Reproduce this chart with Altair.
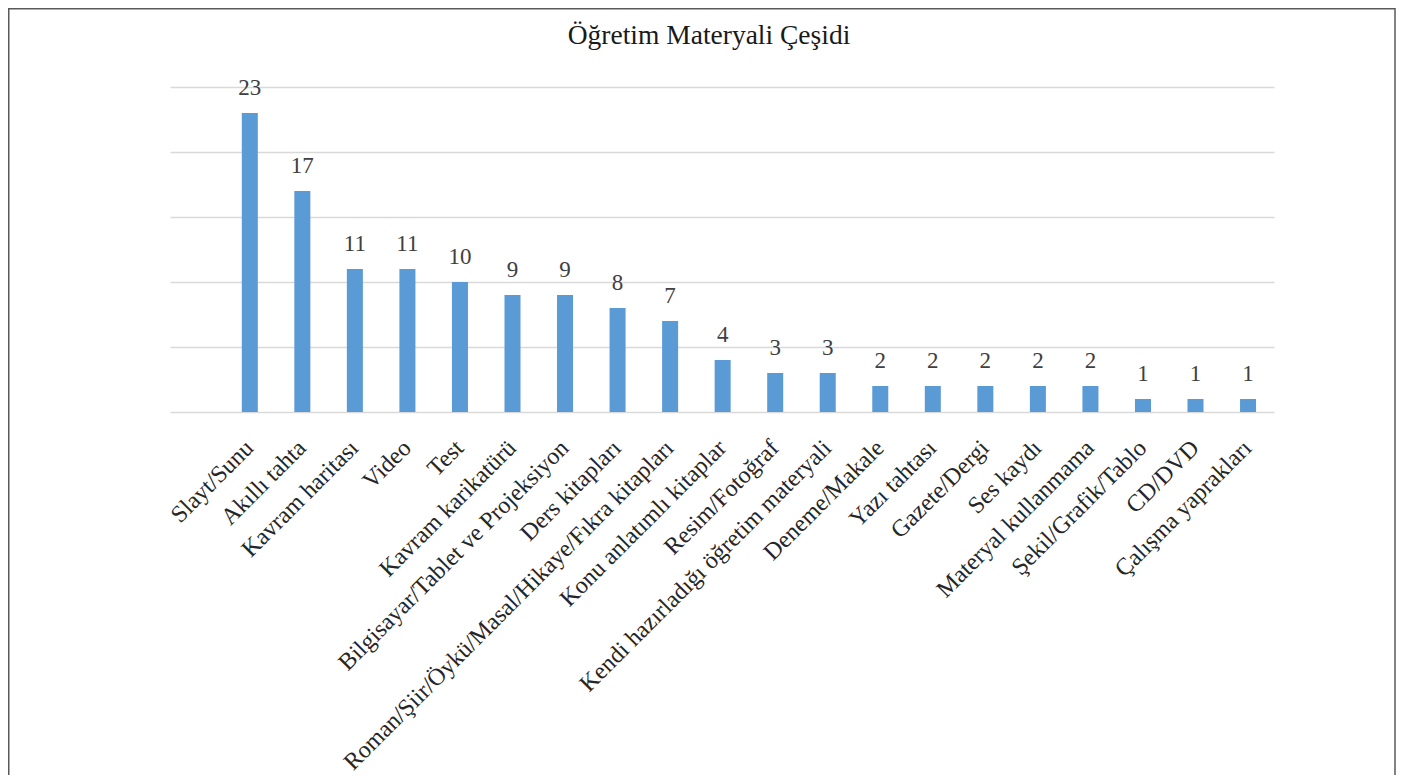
import altair as alt
import pandas as pd

categories = [
    "Slayt/Sunu", "Akıllı tahta", "Kavram haritası", "Video", "Test",
    "Kavram karikatürü", "Bilgisayar/Tablet ve Projeksiyon", "Ders kitapları",
    "Roman/Şiir/Öykü/Masal/Hikaye/Fıkra kitapları", "Konu anlatımlı kitaplar",
    "Resim/Fotoğraf", "Kendi hazırladığı öğretim materyali", "Deneme/Makale",
    "Yazı tahtası", "Gazete/Dergi", "Ses kaydı", "Materyal kullanmama",
    "Şekil/Grafik/Tablo", "CD/DVD", "Çalışma yaprakları",
]
values = [23, 17, 11, 11, 10, 9, 9, 8, 7, 4, 3, 3, 2, 2, 2, 2, 2, 1, 1, 1]
grid_values = [0, 5, 10, 15, 20, 25]
title_text = "Öğretim Materyali Çeşidi"

df = pd.DataFrame({"cat": categories, "val": values})

FONT = "Liberation Serif"

x_enc = alt.X(
    "cat:N",
    sort=categories,
    scale=alt.Scale(paddingInner=0.695, paddingOuter=0.854, align=0.8),
    axis=alt.Axis(
        title=None, labelAngle=-45, labelAlign="right", labelBaseline="middle",
        labelFont=FONT, labelFontSize=24, labelColor="#262626",
        labelPadding=32, labelOffset=0, ticks=False, domain=False, grid=False,
        labelOverlap=False, labelLimit=0,
    ),
)
y_enc = alt.Y(
    "val:Q",
    scale=alt.Scale(domain=[0, 25], nice=False),
    axis=alt.Axis(
        title=None, values=grid_values, labels=False, ticks=False, domain=False,
        grid=True, gridColor="#d9d9d9", gridWidth=1.5,
    ),
)

base = alt.Chart(df)
bars = base.mark_bar(color="#5b9bd5").encode(x=x_enc, y=y_enc)
labels = base.mark_text(
    font=FONT, fontSize=23, color="#404040", baseline="alphabetic", dy=-18
).encode(x=alt.X("cat:N", sort=categories), y="val:Q", text="val:Q")

frame = alt.Chart(pd.DataFrame({"a": [0]})).mark_rect(
    fillOpacity=0, stroke="#595959", strokeWidth=1.5
).encode(
    x=alt.value(-161.25), x2=alt.value(1225), y=alt.value(-78.25), y2=alt.value(700)
)

chart = (
    alt.layer(frame, bars, labels)
    .properties(
        width=1104, height=325,
        autosize=alt.AutoSizeParams(type="none"),
        padding={"left": 162, "top": 79, "right": 122, "bottom": 363},
        view=alt.ViewBackground(stroke="transparent", strokeWidth=0),
        title=alt.TitleParams(
            text=title_text, font=FONT, fontSize=27.5, fontWeight="normal",
            color="#1a1a1a", anchor="middle", dx=-13, offset=0, dy=63,
            baseline="alphabetic",
        ),
    )
    .configure_view(stroke="transparent", strokeWidth=0)
    .configure_axis(domain=False)
    .configure(background="white")
)

chart.save("out.html", embed_options={"renderer": "svg", "actions": False})
